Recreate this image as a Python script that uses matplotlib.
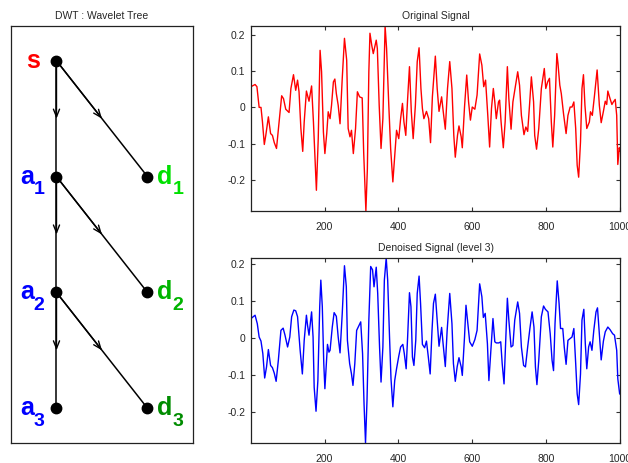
import matplotlib
matplotlib.use("Agg")
import matplotlib.pyplot as plt
import numpy as np

plt.rcParams['font.family'] = ['Liberation Sans', 'DejaVu Sans']

# ---------------- data ----------------
# Original signal: (sample index, value)
orig_n = [1, 12, 17, 23, 28, 32, 37, 41, 48, 54, 59, 64, 70, 77, 84, 89, 95, 104,
          109, 116, 122, 127, 131, 136, 141, 145, 151, 158, 165, 170, 178, 183,
          188, 192, 197, 201, 206, 210, 215, 219, 224, 228, 232, 237, 242, 248,
          254, 260, 264, 269, 273, 278, 284, 289, 295, 302, 306, 312, 316, 320,
          323, 328, 332, 340, 343, 348, 353, 358, 364, 368, 374, 379, 385, 390,
          395, 401, 406, 411, 415, 420, 425, 430, 435, 440, 446, 451, 456, 461,
          465, 469, 476, 482, 487, 492, 500, 505, 510, 517, 521, 527, 533, 539,
          545, 550, 554, 560, 564, 570, 573, 579, 585, 590, 595, 600, 607, 613,
          620, 626, 631, 636, 642, 647, 652, 657, 661, 665, 671, 674, 678, 684,
          689, 695, 699, 705, 710, 715, 723, 728, 733, 740, 745, 750, 755, 760,
          766, 769, 774, 780, 787, 795, 799, 804, 809, 814, 818, 823, 829, 832,
          837, 841, 847, 854, 859, 865, 870, 875, 880, 884, 888, 893, 897, 901,
          905, 910, 917, 920, 925, 931, 938, 944, 949, 955, 960, 964, 967, 973,
          978, 982, 987, 991, 994, 998, 1000]
orig_v = [0.057, 0.063, 0.057, 0.0, 0.0, -0.04, -0.102, -0.077, -0.026, -0.072,
          -0.077, -0.097, -0.113, -0.04, 0.032, 0.024, -0.005, -0.014, 0.052,
          0.09, 0.047, 0.075, 0.043, -0.058, -0.121, -0.04, 0.045, 0.017, 0.059,
          -0.04, -0.228, -0.086, 0.157, 0.098, -0.068, -0.127, -0.072, -0.012,
          -0.031, 0.006, 0.07, 0.078, 0.038, 0.006, -0.045, 0.08, 0.19, 0.13,
          -0.058, -0.081, -0.063, -0.127, -0.058, 0.043, 0.029, 0.026, -0.123,
          -0.285, -0.169, 0.098, 0.204, 0.17, 0.148, 0.185, 0.162, 0.006, -0.113,
          -0.031, 0.224, 0.162, 0.006, -0.113, -0.205, -0.132, -0.063, -0.086,
          -0.031, 0.011, -0.04, -0.077, 0.024, 0.112, -0.012, -0.086, 0.006,
          0.126, 0.164, 0.052, -0.003, -0.031, -0.011, -0.031, -0.097, 0.029,
          0.141, 0.052, -0.011, 0.029, -0.008, -0.06, 0.052, 0.126, 0.052,
          -0.077, -0.137, -0.077, -0.051, -0.081, -0.111, 0.001, 0.089, 0.015,
          -0.035, 0.001, -0.005, 0.034, 0.147, 0.116, 0.057, 0.075, -0.022,
          -0.109, -0.003, 0.052, 0.015, -0.031, 0.015, 0.02, -0.04, -0.111,
          -0.04, 0.112, 0.024, -0.06, 0.015, 0.047, 0.098, 0.061, -0.022, -0.075,
          -0.054, -0.066, 0.006, 0.084, 0.015, -0.077, -0.115, -0.058, 0.052,
          0.107, 0.052, 0.07, 0.08, -0.04, -0.109, -0.022, 0.148, 0.121, 0.061,
          0.038, -0.017, -0.072, -0.022, 0.001, 0.001, 0.015, -0.058, -0.159,
          -0.192, -0.095, 0.052, 0.09, 0.006, -0.058, -0.04, -0.012, -0.022,
          0.034, 0.103, 0.006, -0.042, -0.011, 0.017, 0.008, 0.045, 0.024, 0.008,
          0.015, 0.022, -0.022, -0.157, -0.111, -0.12]

# Denoised signal (level 3): (sample index, value)
den_n = [1, 12, 18, 23, 28, 33, 38, 43, 48, 54, 59, 64, 69, 75, 82, 88, 93, 100,
         106, 111, 117, 122, 127, 134, 140, 145, 151, 154, 158, 161, 165, 169,
         172, 177, 182, 187, 190, 194, 198, 201, 205, 208, 212, 215, 221, 226,
         232, 237, 242, 248, 254, 259, 262, 268, 273, 277, 282, 287, 298, 303,
         307, 311, 315, 320, 325, 330, 334, 336, 340, 344, 349, 353, 358, 362,
         367, 371, 376, 380, 385, 390, 395, 401, 406, 412, 416, 421, 425, 430,
         434, 438, 442, 447, 451, 456, 460, 465, 471, 476, 481, 486, 491, 495,
         500, 505, 510, 517, 521, 527, 532, 539, 545, 549, 554, 559, 564, 570,
         573, 579, 583, 589, 593, 600, 607, 613, 620, 626, 630, 635, 641, 645,
         651, 656, 661, 665, 672, 677, 681, 686, 690, 695, 699, 705, 710, 715,
         723, 728, 733, 739, 744, 750, 756, 762, 767, 771, 775, 780, 787, 793,
         798, 805, 811, 816, 820, 824, 830, 835, 839, 845, 849, 854, 859, 865,
         870, 875, 880, 884, 888, 893, 897, 902, 906, 910, 915, 919, 924, 929,
         935, 939, 944, 949, 955, 960, 967, 973, 980, 985, 991, 994, 999]
den_v = [0.053, 0.062, 0.039, 0.003, -0.008, -0.042, -0.108, -0.078, -0.031,
         -0.074, -0.08, -0.095, -0.117, -0.06, 0.021, 0.027, 0.008, -0.024,
         0.003, 0.058, 0.076, 0.074, 0.058, -0.033, -0.097, -0.006, 0.062, 0.035,
         0.008, 0.035, 0.071, 0.003, -0.133, -0.198, -0.115, 0.085, 0.157,
         0.085, -0.069, -0.137, -0.069, -0.017, -0.038, -0.033, 0.03, 0.069,
         0.059, 0.003, -0.04, 0.067, 0.196, 0.139, -0.006, -0.069, -0.097,
         -0.128, -0.069, 0.021, 0.044, -0.042, -0.178, -0.284, -0.169, 0.049,
         0.194, 0.185, 0.139, 0.157, 0.192, 0.121, -0.024, -0.119, -0.024, 0.157,
         0.217, 0.157, 0.003, -0.11, -0.186, -0.115, -0.083, -0.049, -0.024,
         -0.017, -0.042, -0.083, 0.003, 0.123, 0.085, -0.051, -0.074, -0.006,
         0.121, 0.168, 0.094, -0.017, -0.026, -0.008, -0.051, -0.097, 0.021,
         0.094, 0.119, 0.049, -0.022, 0.029, -0.015, -0.077, 0.021, 0.121,
         0.039, -0.069, -0.117, -0.078, -0.053, -0.078, -0.101, 0.003, 0.089,
         0.03, -0.01, -0.022, -0.004, 0.021, 0.147, 0.112, 0.056, 0.067, -0.015,
         -0.115, -0.024, 0.053, -0.01, -0.013, -0.013, -0.01, -0.069, -0.124,
         -0.024, 0.108, 0.049, -0.024, -0.02, 0.049, 0.098, 0.067, -0.024,
         -0.074, -0.078, -0.024, 0.026, 0.071, 0.03, -0.078, -0.126, -0.06,
         0.058, 0.087, 0.078, 0.071, 0.012, -0.06, -0.088, 0.039, 0.155, 0.094,
         0.026, 0.026, -0.024, -0.071, -0.006, -0.001, 0.003, 0.026, -0.069,
         -0.151, -0.18, -0.097, 0.049, 0.078, -0.015, -0.083, -0.024, -0.01,
         -0.033, 0.021, 0.071, 0.082, 0.012, -0.059, -0.008, 0.017, 0.03, 0.023,
         0.012, 0.008, -0.033, -0.11, -0.151]

x_ticks = [200, 400, 600, 800, 1000]
y_ticks = [-0.2, -0.1, 0, 0.1, 0.2]
y_tick_labels = ['-0.2', '-0.1', '0', '0.1', '0.2']

# tree: node names and colours
tree_letters = ['s', 'a', 'a', 'a', 'd', 'd', 'd']
tree_subs = ['', '1', '2', '3', '1', '2', '3']
tree_cols = [0, 0, 0, 0, 1, 1, 1]
tree_rows = [0, 1, 2, 3, 1, 2, 3]
tree_colors = ['#ff0000', '#0000ff', '#0000ff', '#0000ff',
               '#00e000', '#00b400', '#008c00']

# ---------------- figure ----------------
fig = plt.figure(figsize=(6.28, 4.63), dpi=100)
fig.patch.set_facecolor('white')

txt_col = '#262626'
tick_col = '#333333'

# ---- tree panel ----
axt = fig.add_axes([0.0175, 0.0432, 0.2898, 0.9006])
axt.set_xlim(0.5, 2.5)
axt.set_ylim(3.3, -0.3)
axt.set_xticks([])
axt.set_yticks([])
for sp in axt.spines.values():
    sp.set_linewidth(0.9)
    sp.set_color('#222222')
axt.set_title('DWT : Wavelet Tree', fontsize=7.5, color=txt_col, pad=5)

xs = [1 + c for c in tree_cols]
ys = tree_rows
# vertical trunk s -> a1 -> a2 -> a3
for k in range(3):
    x0, y0 = xs[k], ys[k]
    x1, y1 = xs[k + 1], ys[k + 1]
    axt.plot([x0, x1], [y0, y1], color='k', lw=1.1, zorder=2)
    axt.annotate('', xy=((x0 + x1) / 2, (y0 + y1) / 2), xytext=(x0, y0),
                 arrowprops=dict(arrowstyle='->,head_length=0.55,head_width=0.22',
                                 color='k', lw=1.0, shrinkA=0, shrinkB=0))
    # diagonal to detail node
    x2, y2 = xs[k + 4], ys[k + 4]
    axt.plot([x0, x2], [y0, y2], color='k', lw=1.1, zorder=2)
    axt.annotate('', xy=((x0 + x2) / 2, (y0 + y2) / 2), xytext=(x0, y0),
                 arrowprops=dict(arrowstyle='->,head_length=0.55,head_width=0.22',
                                 color='k', lw=1.0, shrinkA=0, shrinkB=0))
axt.plot(xs, ys, 'o', color='k', ms=7.5, zorder=3)

for i in range(len(xs)):
    col = tree_colors[i]
    if tree_cols[i] == 0:
        if tree_subs[i] == '':
            axt.text(xs[i] - 0.18, ys[i] + 0.06, tree_letters[i], color=col,
                     fontsize=18, fontweight='bold', ha='right', va='baseline')
        else:
            axt.text(xs[i] - 0.245, ys[i] + 0.06, tree_letters[i], color=col,
                     fontsize=18, fontweight='bold', ha='right', va='baseline')
            axt.text(xs[i] - 0.25, ys[i] + 0.15, tree_subs[i], color=col,
                     fontsize=14, fontweight='bold', ha='left', va='baseline')
    else:
        axt.text(xs[i] + 0.11, ys[i] + 0.06, tree_letters[i], color=col,
                 fontsize=18, fontweight='bold', ha='left', va='baseline')
        axt.text(xs[i] + 0.275, ys[i] + 0.15, tree_subs[i], color=col,
                 fontsize=14, fontweight='bold', ha='left', va='baseline')


def style_signal_axes(ax, title):
    ax.set_xlim(1, 1000)
    ax.set_xticks(x_ticks)
    ax.set_xticklabels([str(t) for t in x_ticks])
    ax.set_yticks(y_ticks)
    ax.set_yticklabels(y_tick_labels)
    ax.tick_params(direction='in', length=3, width=0.8, top=True, right=True,
                   labelsize=7.5, colors=tick_col, labelcolor=txt_col)
    ax.tick_params(axis='x', pad=8)
    ax.tick_params(axis='y', pad=4)
    for sp in ax.spines.values():
        sp.set_linewidth(0.9)
        sp.set_color('#222222')
    ax.set_title(title, fontsize=7.5, color=txt_col, pad=5)


ax1 = fig.add_axes([0.3997, 0.5443, 0.5876, 0.3996])
ax1.plot(orig_n, orig_v, color='#ff0000', lw=1.0)
ax1.set_ylim(min(orig_v), max(orig_v))
style_signal_axes(ax1, 'Original Signal')

ax2 = fig.add_axes([0.3997, 0.0432, 0.5876, 0.3996])
ax2.plot(den_n, den_v, color='#0000ff', lw=1.0)
ax2.set_ylim(min(den_v), max(den_v))
style_signal_axes(ax2, 'Denoised Signal (level 3)')

fig.savefig('out.png', dpi=100)
